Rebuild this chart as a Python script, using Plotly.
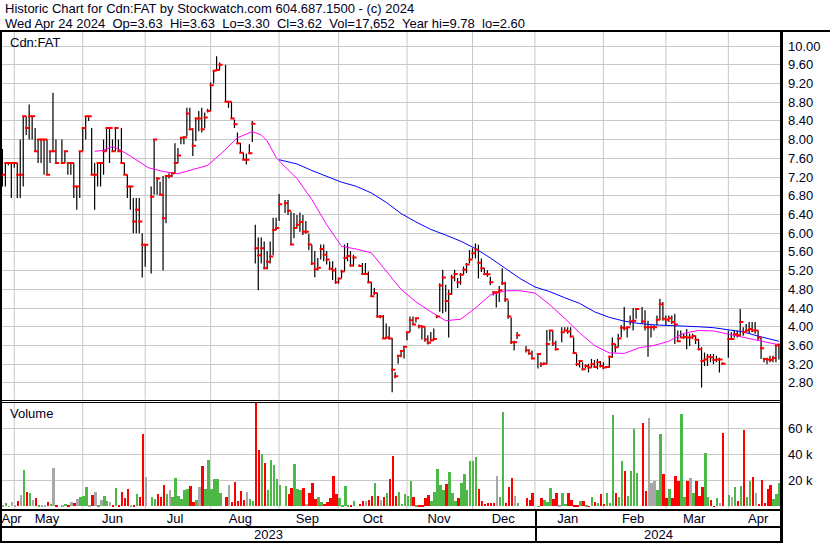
import pandas as pd
import plotly.graph_objects as go

# ---------------- data ----------------
HOLIDAYS = ["2023-05-22", "2023-07-03", "2023-08-07", "2023-09-04", "2023-10-09",
            "2023-12-25", "2023-12-26", "2024-01-01", "2024-02-19", "2024-03-29"]
dates = [d for d in pd.bdate_range("2023-04-25", "2024-04-24")
         if d.strftime("%Y-%m-%d") not in HOLIDAYS]

high = [
    7.80, 7.50, 7.50, 7.50,
    7.50, 7.50, 8.00, 8.50, 8.50, 8.75, 8.50, 8.25, 8.00, 8.00, 8.00, 8.00, 7.75, 9.00, 8.00, 8.00, 7.75, 7.50, 7.50, 7.50, 7.00, 7.75,
    8.25, 8.50, 8.50, 8.25, 7.50, 7.50, 7.50, 8.00, 8.25, 8.25, 8.00, 8.25, 8.00, 8.25, 7.50, 7.25, 7.00, 6.75, 6.75, 6.75, 6.00, 5.75,
    7.00, 8.00, 7.20, 7.10, 7.22, 7.22, 7.28, 7.28, 7.92, 7.82, 8.04, 8.07, 8.68, 8.68, 8.25, 8.47, 8.61, 8.68, 8.58, 8.66,
    9.22, 9.47, 9.78, 9.65, 9.60, 8.81, 8.81, 8.43, 8.15, 7.93, 7.72, 7.70, 7.90, 8.40, 6.18, 5.91, 5.91, 5.82, 5.62, 5.82, 6.33, 6.33,
    6.84, 6.71, 6.71, 6.46, 6.43, 6.39, 6.44, 6.39, 6.26, 5.99, 5.75, 5.62, 5.47, 5.76, 5.76, 5.62, 5.40, 5.40, 5.26, 5.04,
    5.22, 5.76, 5.79, 5.62, 5.54, 5.33, 5.36, 5.36, 5.18, 4.95, 4.83, 4.72, 4.25, 4.25, 4.07, 4.00, 3.76, 3.03, 3.39, 3.48, 3.57,
    3.89, 4.22, 4.22, 4.19, 4.05, 4.04, 4.00, 3.82, 3.89, 3.96, 4.25, 4.93, 5.22, 4.90, 4.79, 5.11, 5.22, 5.04, 5.15, 5.29, 5.36, 5.64,
    5.68, 5.78, 5.75, 5.46, 5.25, 5.21, 5.07, 4.76, 4.74, 4.87, 5.25, 4.96, 4.56, 4.20, 3.70, 3.89, 3.59, 3.52, 3.49,
    3.43, 3.24, 3.24, 3.93, 3.93, 3.92, 3.70, None, 3.99, 3.99, 3.99, 3.99, 3.77, 3.42, 3.29, 3.24, 3.20, 3.21, 3.31, 3.29, 3.31, 3.27,
    3.24, 3.16, 3.38, 3.77, 3.63, 3.85, 4.03, 4.42, 3.99, 4.24, 4.40, 4.38, 4.42, 4.35, 4.13, 4.03, 4.03, 4.24, 4.60, 4.53,
    4.24, 4.24, 4.24, 4.28, 3.92, 3.92, 3.85, 3.95, 3.85, 3.85, 3.81, 3.74, 3.56, 3.45, 3.42, 3.42, 3.42, 3.38, 3.34, 3.24,
    3.92, 3.88, 3.92, 3.92, 4.38, 3.99, 4.06, 4.10, 4.10, 4.10, 3.92, 3.77, 3.34, 3.34, 3.38, 3.38, 3.62, 3.63,
]
low = [
    7.00, 7.00, 7.45, 6.75,
    7.40, 6.75, 6.75, 7.00, 8.10, 8.00, 8.00, 7.75, 7.50, 7.50, 7.25, 7.25, 7.50, 7.75, 7.50, 7.50, 7.50, 7.25, 7.25, 6.75, 6.50, 6.75,
    7.75, 8.00, 8.40, 7.25, 6.50, 7.00, 7.00, 7.25, 7.75, 7.50, 7.75, 7.75, 7.75, 7.50, 7.25, 6.75, 6.50, 6.00, 6.00, 6.00, 5.05, 5.28,
    5.14, 6.82, 6.82, 6.82, 5.20, 6.21, 7.17, 7.20, 7.28, 7.50, 7.90, 7.90, 8.07, 8.20, 7.65, 7.97, 8.18, 8.15, 8.25, 8.58,
    8.61, 9.20, 9.47, 9.49, 8.81, 8.68, 8.45, 8.25, 7.90, 7.72, 7.57, 7.47, 7.70, 7.95, 5.35, 4.78, 5.35, 5.23, 5.23, 5.35, 5.53, 6.07,
    6.26, 6.43, 6.39, 5.75, 5.89, 6.11, 6.03, 5.96, 5.99, 5.64, 5.32, 5.06, 5.20, 5.44, 5.40, 5.33, 5.22, 5.00, 4.92, 4.92,
    5.04, 5.18, 5.40, 5.29, 5.29, 5.29, 5.11, 5.11, 4.93, 4.64, 4.68, 4.20, 4.18, 3.75, 3.75, 3.73, 2.60, 2.90, 3.21, 3.35, 3.32,
    3.71, 3.89, 4.04, 4.09, 3.96, 3.73, 3.68, 3.62, 3.68, 3.71, 4.18, 4.32, 4.29, 4.32, 3.77, 4.68, 4.97, 4.83, 4.90, 5.11, 5.15, 5.35,
    5.46, 5.46, 5.03, 5.17, 5.10, 5.07, 4.89, 4.67, 4.41, 4.53, 4.89, 4.53, 4.17, 3.63, 3.49, 3.74, 3.45, 3.40, 3.31,
    3.11, 3.14, 3.18, 3.20, 3.70, 3.59, 3.49, None, 3.67, 3.92, 3.85, 3.77, 3.42, 3.16, 3.13, 3.07, 3.11, 3.02, 3.13, 3.13, 3.09, 3.13,
    3.09, 3.13, 3.13, 3.34, 3.45, 3.56, 3.77, 3.92, 3.77, 4.03, 3.92, 4.17, 4.06, 3.92, 3.36, 3.77, 3.92, 4.03, 4.14, 4.13,
    4.03, 4.10, 4.06, 3.63, 3.68, 3.76, 3.74, 3.52, 3.59, 3.74, 3.63, 3.50, 2.70, 3.16, 3.16, 3.24, 3.20, 3.24, 3.02, 3.18,
    3.34, 3.72, 3.77, 3.77, 3.81, 3.81, 3.88, 3.85, 3.88, 3.85, 3.70, 3.31, 3.24, 3.20, 3.24, 3.24, 3.24, 3.30,
]
close = [
    7.25, 7.50, 7.50, 7.50,
    7.50, 7.25, 7.25, 8.50, 8.25, 8.50, 8.50, 7.75, 8.00, 8.00, 8.00, 7.25, 7.75, 7.75, 7.50, 7.50, 7.75, 7.50, 7.50, 7.00, 7.00, 7.75,
    8.25, 8.50, 8.50, 7.25, 7.25, 7.50, 7.50, 7.75, 8.25, 8.25, 7.75, 8.25, 7.75, 7.50, 7.25, 7.00, 7.00, 6.25, 6.50, 6.25, 5.75, 5.75,
    6.78, 8.00, 7.17, 6.82, 6.32, 7.22, 7.22, 7.28, 7.50, 7.66, 8.04, 8.05, 8.56, 8.22, 7.87, 8.45, 8.45, 8.22, 8.47, 8.61,
    9.16, 9.47, 9.49, 9.60, 8.81, 8.81, 8.45, 8.33, 7.92, 7.72, 7.57, 7.57, 7.71, 8.34, 5.68, 5.53, 5.68, 5.25, 5.39, 5.50, 6.07, 6.11,
    6.62, 6.64, 6.48, 5.76, 6.11, 6.18, 6.24, 6.03, 6.03, 5.76, 5.35, 5.23, 5.26, 5.66, 5.54, 5.44, 5.24, 5.20, 4.95, 5.03,
    5.18, 5.47, 5.51, 5.31, 5.48, 5.30, 5.13, 5.13, 4.95, 4.65, 4.72, 4.22, 4.22, 3.75, 3.77, 3.75, 3.08, 2.94, 3.38, 3.48, 3.57,
    3.88, 4.14, 4.05, 4.18, 4.01, 4.00, 3.73, 3.66, 3.71, 3.74, 4.22, 4.88, 5.05, 4.55, 4.70, 5.05, 5.13, 4.95, 5.11, 5.22, 5.33, 5.44,
    5.57, 5.65, 5.37, 5.25, 5.13, 5.12, 4.95, 4.74, 4.74, 4.78, 4.93, 4.58, 4.22, 3.67, 3.67, 3.82, 3.50, 3.43, 3.32,
    3.42, 3.20, 3.21, 3.63, 3.92, 3.64, 3.52, None, 3.88, 3.92, 3.90, 3.79, 3.44, 3.20, 3.27, 3.09, 3.16, 3.13, 3.20, 3.14, 3.24, 3.16,
    3.13, 3.14, 3.36, 3.63, 3.56, 3.75, 3.98, 3.97, 3.99, 4.12, 4.13, 4.38, 4.11, 3.99, 3.99, 3.99, 3.99, 4.15, 4.48, 4.17,
    4.15, 4.18, 4.10, 4.05, 3.69, 3.77, 3.78, 3.77, 3.77, 3.80, 3.72, 3.52, 3.27, 3.30, 3.36, 3.35, 3.29, 3.30, 3.30, 3.21,
    3.74, 3.74, 3.84, 3.82, 4.10, 3.88, 3.92, 3.95, 3.92, 3.92, 3.77, 3.54, 3.31, 3.30, 3.29, 3.33, 3.60, 3.62,
]
volume_k = [
    0.3, 2.6, 0.2, 3.3,
    1.0, 4.1, 8.7, 27.9, 11.0, 10.3, 4.9, 6.4, 0.5, 0.3, 1.0, 3.3, 1.8, 29.5, 1.0, 1.0, 1.8, 0.3, 3.3, 2.6, 5.6, 7.2,
    7.9, 14.9, 0.5, 8.7, 11.0, 1.0, 4.9, 7.9, 4.1, 3.3, 0.5, 14.1, 0.5, 11.0, 6.4, 13.3, 0.5, 1.0, 9.5, 7.2, 55.6, 22.6,
    7.2, 5.6, 9.5, 7.2, 16.4, 9.5, 12.6, 7.2, 21.8, 8.0, 5.6, 12.6, 13.3, 15.6, 3.3, 4.9, 14.9, 31.0, 13.3, 35.6,
    13.3, 21.0, 21.0, 10.3, 7.2, 16.4, 3.3, 18.7, 4.1, 11.8, 4.9, 11.0, 5.6, 4.1, 88.0, 43.3, 40.3, 33.3, 12.6, 35.6, 31.8, 21.0,
    16.4, 15.6, 9.5, 14.1, 32.6, 13.3, 12.6, 14.1, 1.8, 10.3, 17.9, 5.6, 7.2, 3.3, 1.8, 3.3, 6.4, 23.3, 9.5, 6.4,
    1.0, 15.6, 1.0, 1.0, 4.1, 1.8, 4.1, 4.1, 4.9, 7.9, 17.9, 7.9, 4.9, 7.2, 10.3, 21.0, 38.7, 7.9, 11.0, 1.8, 9.5,
    7.9, 19.5, 7.2, 0.3, 0.3, 1.0, 6.2, 8.7, 4.1, 11.0, 28.7, 16.4, 12.6, 17.2, 26.4, 10.3, 4.1, 6.4, 17.9, 24.9, 12.6, 34.9,
    34.9, 38.2, 13.3, 4.1, 1.8, 2.6, 2.6, 2.6, 23.3, 7.2, 72.8, 2.6, 14.9, 21.8, 7.9, 2.6, 6.4, 4.9, 10.3,
    0.2, 6.4, 4.6, 3.3, 14.1, 5.6, 10.3, 0.3, 10.3, 1.8, 10.3, 4.9, 1.0, 0.3, 4.1, 4.1, 0.3, 0.2, 7.2, 3.3, 2.6, 9.5,
    1.8, 10.3, 2.6, 70.3, 10.3, 7.2, 34.9, 27.2, 7.9, 27.2, 59.5, 25.6, 64.1, 11.8, 67.9, 17.9, 19.5, 12.6, 55.6, 24.9,
    6.4, 13.3, 6.4, 23.3, 19.5, 71.0, 7.2, 19.5, 21.8, 10.3, 19.5, 7.9, 14.9, 41.0, 7.2, 4.9, 0.1, 6.4, 2.6, 56.4,
    8.7, 7.2, 14.9, 4.1, 15.6, 58.7, 7.2, 19.5, 22.6, 10.3, 1.8, 20.0, 2.6, 13.1, 16.4, 5.6, 9.7, 17.652,
]

ma_fast_dates = ["2023-06-07", "2023-06-12", "2023-06-15", "2023-06-19", "2023-06-26", "2023-07-03",
                 "2023-07-10", "2023-07-17", "2023-07-24", "2023-07-31", "2023-08-07", "2023-08-14",
                 "2023-08-21", "2023-08-24", "2023-08-28", "2023-08-31", "2023-09-04", "2023-09-11",
                 "2023-09-18", "2023-09-25", "2023-10-02", "2023-10-09", "2023-10-16", "2023-10-23",
                 "2023-10-30", "2023-11-06", "2023-11-13", "2023-11-20", "2023-11-27", "2023-12-04",
                 "2023-12-11", "2023-12-18", "2023-12-25", "2024-01-01", "2024-01-08", "2024-01-15",
                 "2024-01-22", "2024-01-29", "2024-02-05", "2024-02-12", "2024-02-19", "2024-02-26",
                 "2024-03-04", "2024-03-11", "2024-03-18", "2024-03-25", "2024-04-01", "2024-04-08",
                 "2024-04-15", "2024-04-22", "2024-04-24"]
ma_fast = [7.75, 7.77, 7.85, 7.80, 7.61, 7.40, 7.32, 7.27, 7.36, 7.45, 7.73, 8.04, 8.17, 8.10, 7.97,
           7.62, 7.48, 7.17, 6.72, 6.18, 5.72, 5.66, 5.58, 5.20, 4.80, 4.53, 4.32, 4.13, 4.16, 4.40,
           4.68, 4.77, 4.77, 4.72, 4.47, 4.18, 3.87, 3.60, 3.44, 3.43, 3.55, 3.60, 3.69, 3.86, 3.92,
           3.91, 3.84, 3.78, 3.71, 3.64, 3.62]

ma_slow_dates = ["2023-09-01", "2023-09-11", "2023-09-18", "2023-09-25", "2023-10-02", "2023-10-09",
                 "2023-10-16", "2023-10-23", "2023-10-30", "2023-11-06", "2023-11-13", "2023-11-20",
                 "2023-11-27", "2023-12-04", "2023-12-11", "2023-12-18", "2023-12-25", "2024-01-01",
                 "2024-01-08", "2024-01-15", "2024-01-22", "2024-01-29", "2024-02-05", "2024-02-12",
                 "2024-02-19", "2024-02-26", "2024-03-04", "2024-03-11", "2024-03-18", "2024-03-25",
                 "2024-04-01", "2024-04-08", "2024-04-15", "2024-04-22", "2024-04-24"]
ma_slow = [7.57, 7.48, 7.34, 7.21, 7.09, 7.00, 6.86, 6.66, 6.42, 6.24, 6.08, 5.96, 5.83, 5.67, 5.47,
           5.25, 5.03, 4.85, 4.75, 4.62, 4.50, 4.32, 4.20, 4.12, 4.07, 4.04, 4.03, 4.02, 4.00, 3.98,
           3.94, 3.89, 3.80, 3.72, 3.69]

month_grid = ["2023-05-01", "2023-06-01", "2023-06-30", "2023-08-01", "2023-09-01", "2023-09-29",
              "2023-11-01", "2023-12-01", "2024-01-01", "2024-02-01", "2024-03-01", "2024-04-01"]
month_label_pos = ["2023-04-28 02:00", "2023-05-16", "2023-06-15", "2023-07-14", "2023-08-15",
                   "2023-09-14 12:00", "2023-10-16 12:00", "2023-11-15 18:00", "2023-12-15 08:00",
                   "2024-01-16", "2024-02-15", "2024-03-14 12:00", "2024-04-15"]
month_labels = ["Apr", "May", "Jun", "Jul", "Aug", "Sep", "Oct", "Nov", "Dec", "Jan", "Feb", "Mar", "Apr"]
year_labels = ["2023", "2024"]
header1 = "Historic Chart for Cdn:FAT by Stockwatch.com 604.687.1500 - (c) 2024"
header2 = "\u00a0\u00a0".join(["Wed Apr 24 2024", "Op=3.63", "Hi=3.63", "Lo=3.30", "Cl=3.62",
                               "Vol=17,652", "Year hi=9.78", "lo=2.60"])

# ---------------- geometry helpers ----------------
W, H = 830, 543
ML, MR, MT, MB = 0, 49, 32, 34
PW, PH = W - ML - MR, H - MT - MB


def fx(px):
    return (px - ML) / PW


def fy(py):
    return (H - MB - py) / PH


FONT = "Liberation Sans, Arial, sans-serif"
TXT = "#000022"
GRID = "#C8C8C8"
GREEN, RED, GRAY = "#4DB848", "#FF0000", "#A8A8A8"

# ---------------- traces ----------------
hx, hy = [], []
for d, lo, hi in zip(dates, low, high):
    if hi is None:
        continue
    hx += [d, d, None]
    hy += [lo, hi, None]

cx = [d + pd.Timedelta(hours=8) for d, c in zip(dates, close) if c is not None]
cy = [c for c in close if c is not None]

vol_colors = []
prev = None
for c in close:
    if c is None or prev is None or c == prev:
        vol_colors.append(GRAY)
    elif c > prev:
        vol_colors.append(GREEN)
    else:
        vol_colors.append(RED)
    if c is not None:
        prev = c

fig = go.Figure()
fig.add_trace(go.Scatter(x=hx, y=hy, mode="lines", line=dict(color="black", width=1.2),
                         xaxis="x2", yaxis="y", hoverinfo="skip"))
fig.add_trace(go.Scatter(x=ma_slow_dates, y=ma_slow, mode="lines", line=dict(color="#0000FF", width=1),
                         xaxis="x2", yaxis="y", hoverinfo="skip"))
fig.add_trace(go.Scatter(x=ma_fast_dates, y=ma_fast, mode="lines", line=dict(color="#FF00FF", width=1),
                         xaxis="x2", yaxis="y", hoverinfo="skip"))
fig.add_trace(go.Scatter(x=cx, y=cy, mode="markers",
                         marker=dict(symbol="line-ew", size=3, line=dict(color="#FF0000", width=2)),
                         xaxis="x2", yaxis="y", hoverinfo="skip"))
fig.add_trace(go.Bar(x=dates, y=[v * 1000 for v in volume_k], marker=dict(color=vol_colors, line=dict(width=0)),
                     width=0.66 * 86400000, offset=0, xaxis="x", yaxis="y2", hoverinfo="skip"))

xr = ["2023-04-24 04:38", "2024-04-24 16:48"]
common_x = dict(type="date", range=xr, rangebreaks=[dict(bounds=["sat", "mon"])],
                showgrid=False, zeroline=False, showline=False, ticks="", automargin=False,
                fixedrange=True)

shapes = []
for g in month_grid:
    for ax, yr in (("x2", "y domain"), ("x", "y2 domain")):
        shapes.append(dict(type="line", xref=ax, yref=yr, x0=g, x1=g, y0=0, y1=1,
                           line=dict(color=GRID, width=1), layer="below"))


def hline(py, x0, x1, w):
    shapes.append(dict(type="line", xref="paper", yref="paper", x0=fx(x0), x1=fx(x1),
                       y0=fy(py), y1=fy(py), line=dict(color="black", width=w)))


def vline(px, y0, y1, w):
    shapes.append(dict(type="line", xref="paper", yref="paper", x0=fx(px), x1=fx(px),
                       y0=fy(y0), y1=fy(y1), line=dict(color="black", width=w)))


hline(31, 0, 830, 2)
hline(400.5, 0, 781, 1)
hline(402.5, 0, 781, 1)
hline(510, 0, 781, 2)
hline(527, 0, 781, 2)
hline(542, 0, 781, 2)
vline(1, 31, 543, 2)
vline(781.5, 31, 543, 3)
vline(536, 510, 542, 2)

annotations = [
    dict(text=header1, x=fx(3), y=fy(8.5), xref="paper", yref="paper", xanchor="left",
         yanchor="middle", showarrow=False, font=dict(family=FONT, size=13, color=TXT)),
    dict(text=header2, x=fx(3), y=fy(23.5), xref="paper", yref="paper", xanchor="left",
         yanchor="middle", showarrow=False, font=dict(family=FONT, size=13, color=TXT)),
    dict(text="Cdn:FAT", x=fx(8), y=fy(42), xref="paper", yref="paper", xanchor="left",
         yanchor="middle", showarrow=False, font=dict(family=FONT, size=13, color=TXT)),
    dict(text="Volume", x=fx(8), y=fy(413), xref="paper", yref="paper", xanchor="left",
         yanchor="middle", showarrow=False, font=dict(family=FONT, size=13, color=TXT)),
    dict(text=year_labels[0], x=fx(268), y=fy(534.5), xref="paper", yref="paper",
         xanchor="center", yanchor="middle", showarrow=False, font=dict(family=FONT, size=13, color=TXT)),
    dict(text=year_labels[1], x=fx(658), y=fy(534.5), xref="paper", yref="paper",
         xanchor="center", yanchor="middle", showarrow=False, font=dict(family=FONT, size=13, color=TXT)),
]

fig.update_layout(
    template="none",
    width=W, height=H,
    margin=dict(l=ML, r=MR, t=MT, b=MB, pad=0),
    paper_bgcolor="white", plot_bgcolor="white",
    showlegend=False, hovermode=False, bargap=0,
    xaxis=dict(common_x, domain=[0, 1], anchor="y2", tickmode="array", tickvals=month_label_pos,
               ticktext=month_labels, showticklabels=True, ticklabelstandoff=0,
               ticklabeloverflow="allow",
               tickfont=dict(family=FONT, size=13, color=TXT)),
    xaxis2=dict(common_x, domain=[0, 1], anchor="y", matches="x", showticklabels=False),
    yaxis=dict(domain=[fy(399.5), 1], range=[2.445, 10.30], side="right", anchor="x2",
               tickmode="linear", tick0=2.8, dtick=0.4, tickformat=".2f",
               showgrid=True, gridcolor=GRID, gridwidth=1, zeroline=False, showline=False,
               ticks="", ticklabelstandoff=6, automargin=False, fixedrange=True,
               tickfont=dict(family=FONT, size=13, color=TXT)),
    yaxis2=dict(domain=[0, fy(403)], range=[-2080, 79460], side="right", anchor="x",
                tickmode="array", tickvals=[20000, 40000, 60000], ticktext=["20 k", "40 k", "60 k"],
                showgrid=True, gridcolor=GRID, gridwidth=1, zeroline=False, showline=False,
                ticks="", ticklabelstandoff=6, automargin=False, fixedrange=True,
                tickfont=dict(family=FONT, size=13, color=TXT)),
    shapes=shapes,
    annotations=annotations,
)

fig.write_html("out.html", config={"displayModeBar": False},
               post_script="document.body.style.margin='0';document.body.style.padding='0';")
